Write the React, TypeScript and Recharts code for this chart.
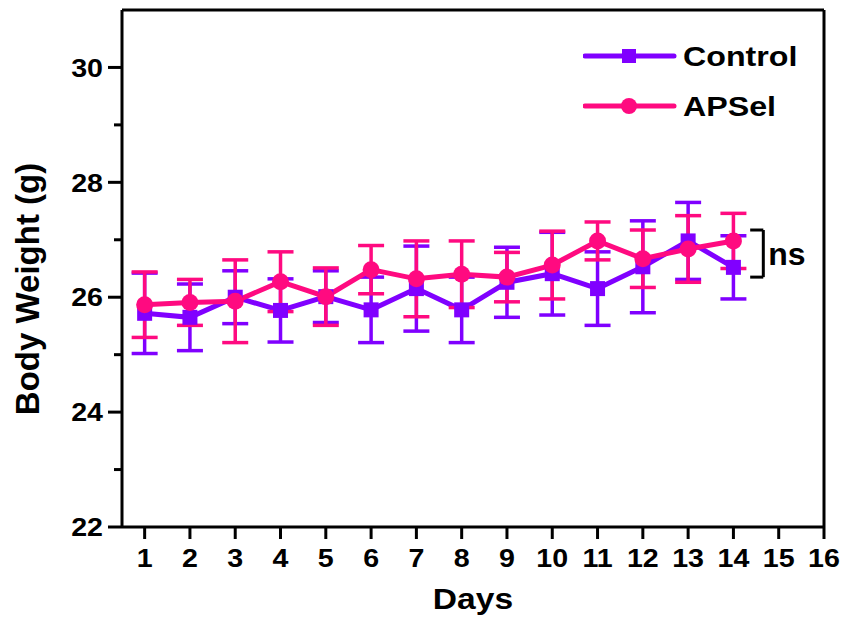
import React from 'react';
import {
  LineChart,
  Line,
  XAxis,
  YAxis,
  ErrorBar,
  ReferenceLine,
  ReferenceDot,
  Legend,
} from 'recharts';

const days = [1, 2, 3, 4, 5, 6, 7, 8, 9, 10, 11, 12, 13, 14];
const controlMean = [25.72, 25.65, 26.0, 25.77, 26.01, 25.78, 26.15, 25.78, 26.26, 26.41, 26.15, 26.53, 26.98, 26.52];
const controlSd = [0.7, 0.58, 0.46, 0.55, 0.45, 0.57, 0.74, 0.57, 0.61, 0.72, 0.64, 0.8, 0.67, 0.55];
const apselMean = [25.87, 25.91, 25.93, 26.27, 26.01, 26.48, 26.32, 26.4, 26.35, 26.56, 26.98, 26.67, 26.84, 26.98];
const apselSd = [0.57, 0.4, 0.72, 0.52, 0.5, 0.42, 0.66, 0.58, 0.43, 0.59, 0.33, 0.5, 0.58, 0.48];

const xTicks = [1, 2, 3, 4, 5, 6, 7, 8, 9, 10, 11, 12, 13, 14, 15, 16];
const yTicks = [22, 23, 24, 25, 26, 27, 28, 29, 30];

// "ns" bracket, in data units
const bracketX = [14.37, 14.66];
const bracketY = [27.17, 26.35];

const PURPLE = '#8000ff';
const PINK = '#ff0a80';
const FONT = '"Liberation Sans", Arial, Helvetica, sans-serif';

const data = days.map((d, i) => ({
  day: d,
  control: controlMean[i],
  controlErr: controlSd[i],
  apsel: apselMean[i],
  apselErr: apselSd[i],
}));

const YTick = (props: any) => {
  const { x, y, payload } = props;
  const major = payload.value % 2 === 0;
  return (
    <g>
      <line x1={x - (major ? 14 : 8)} x2={x} y1={y} y2={y} stroke="#000" strokeWidth={3} />
      {major && (
        <text
          transform={`translate(${x - 19},${y}) scale(1.1,1)`}
          textAnchor="end"
          dy="0.355em"
          fontSize={26}
          fontWeight="bold"
          fontFamily={FONT}
          fill="#000"
        >
          {payload.value}
        </text>
      )}
    </g>
  );
};

const XTick = (props: any) => {
  const { x, y, payload } = props;
  return (
    <text
      transform={`translate(${x},${y}) scale(1.1,1)`}
      textAnchor="middle"
      dy="0.71em"
      fontSize={26}
      fontWeight="bold"
      fontFamily={FONT}
      fill="#000"
    >
      {payload.value}
    </text>
  );
};

const SquareDot = (props: any) => {
  const { cx, cy, index } = props;
  return <rect key={`sq-${index}`} x={cx - 7.5} y={cy - 7.5} width={15} height={15} fill={PURPLE} />;
};

const LegendBox = () => (
  <svg width={240} height={100}>
    <line x1={2} x2={91} y1={26} y2={26} stroke={PURPLE} strokeWidth={5} strokeLinecap="round" />
    <rect x={39} y={19} width={14} height={14} fill={PURPLE} />
    <text transform="translate(100,26) scale(1.15,1)" dy="0.355em" fontSize={28} fontWeight="bold" fontFamily={FONT}>
      Control
    </text>
    <line x1={2} x2={91} y1={76} y2={76} stroke={PINK} strokeWidth={5} strokeLinecap="round" />
    <circle cx={46} cy={76} r={8} fill={PINK} />
    <text transform="translate(100,76) scale(1.15,1)" dy="0.355em" fontSize={28} fontWeight="bold" fontFamily={FONT}>
      APSel
    </text>
  </svg>
);

export default function App() {
  return (
    <div style={{ position: 'absolute', left: 0, top: 0, background: '#fff', fontFamily: FONT }}>
      <LineChart width={844} height={623} data={data} margin={{ top: 10, right: 20, left: 0, bottom: 0 }}>
        <XAxis
          dataKey="day"
          type="number"
          domain={[0.5, 16]}
          ticks={xTicks}
          interval={0}
          height={96}
          tickSize={12}
          tickMargin={10}
          axisLine={{ stroke: '#000', strokeWidth: 3 }}
          tickLine={{ stroke: '#000', strokeWidth: 3 }}
          tick={<XTick />}
          label={{
            content: (p: any) => {
              const vb = p.viewBox;
              const cx = vb.x + vb.width / 2;
              return (
                <text
                  transform={`translate(${cx},609) scale(1.12,1)`}
                  textAnchor="middle"
                  fontSize={30}
                  fontWeight="bold"
                  fontFamily={FONT}
                  fill="#000"
                >
                  Days
                </text>
              );
            },
          }}
        />
        <YAxis
          type="number"
          domain={[22, 31]}
          ticks={yTicks}
          interval={0}
          width={122}
          tickSize={0}
          tickMargin={0}
          tickLine={false}
          axisLine={{ stroke: '#000', strokeWidth: 3 }}
          tick={<YTick />}
          label={{
            content: () => (
              <text
                x={39}
                y={289}
                transform="rotate(-90, 39, 289)"
                textAnchor="middle"
                fontSize={33}
                fontWeight="bold"
                fontFamily={FONT}
                fill="#000"
              >
                Body Weight (g)
              </text>
            ),
          }}
        />
        <ReferenceLine y={31} stroke="#000" strokeWidth={3} />
        <ReferenceLine x={16} stroke="#000" strokeWidth={3} />
        <Legend
          layout="vertical"
          verticalAlign="middle"
          align="center"
          content={<LegendBox />}
          wrapperStyle={{ top: 30, left: 583, width: 240, height: 100 }}
        />
        <Line
          dataKey="control"
          name="Control"
          stroke={PURPLE}
          strokeWidth={5}
          dot={SquareDot}
          activeDot={false}
          isAnimationActive={false}
        >
          <ErrorBar dataKey="controlErr" direction="y" width={13} stroke={PURPLE} strokeWidth={3.5} isAnimationActive={false} />
        </Line>
        <Line
          dataKey="apsel"
          name="APSel"
          stroke={PINK}
          strokeWidth={5}
          dot={{ r: 8.5, fill: PINK, stroke: PINK, strokeWidth: 0 }}
          activeDot={false}
          isAnimationActive={false}
        >
          <ErrorBar dataKey="apselErr" direction="y" width={13} stroke={PINK} strokeWidth={3.5} isAnimationActive={false} />
        </Line>
        <ReferenceLine
          segment={[{ x: bracketX[0], y: bracketY[0] }, { x: bracketX[1], y: bracketY[0] }]}
          stroke="#000"
          strokeWidth={3}
        />
        <ReferenceLine
          segment={[{ x: bracketX[1], y: bracketY[0] }, { x: bracketX[1], y: bracketY[1] }]}
          stroke="#000"
          strokeWidth={3}
        />
        <ReferenceLine
          segment={[{ x: bracketX[0], y: bracketY[1] }, { x: bracketX[1], y: bracketY[1] }]}
          stroke="#000"
          strokeWidth={3}
        />
        <ReferenceDot
          x={bracketX[1]}
          y={(bracketY[0] + bracketY[1]) / 2}
          r={0}
          stroke="none"
          label={{ value: 'ns', position: 'right', offset: 5, fontSize: 32, fontWeight: 'bold', fontFamily: FONT, fill: '#000' }}
        />
      </LineChart>
    </div>
  );
}
